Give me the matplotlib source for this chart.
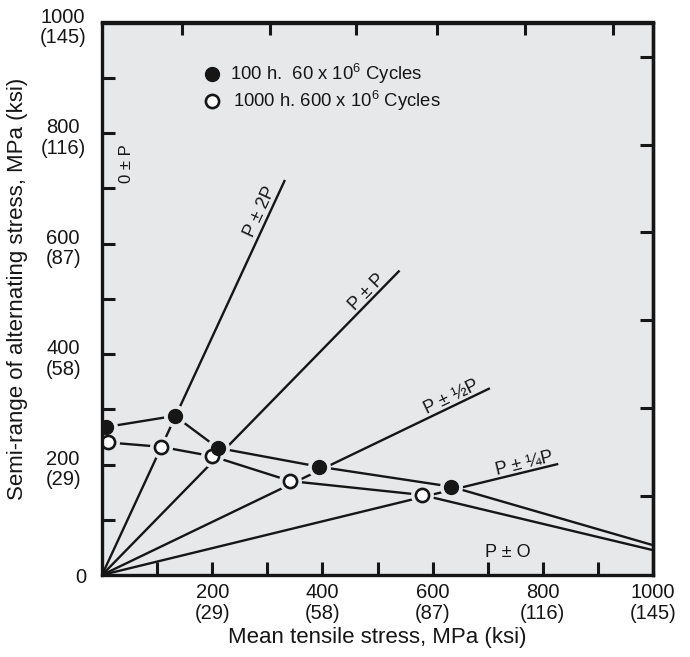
"""Creep-fatigue diagram: mean stress vs semi-range of alternating stress."""
import matplotlib
matplotlib.use("Agg")
import matplotlib.pyplot as plt  # noqa: E402
import numpy as np

plt.rcParams["font.family"] = ["Liberation Sans", "DejaVu Sans"]
plt.rcParams["mathtext.fontset"] = "custom"
plt.rcParams["mathtext.rm"] = "Liberation Sans"

# load-ratio rays drawn from the origin, end points in MPa
ray_names = ["P ± 2P", "P ± P", "P ± ½P", "P ± ¼P"]
ray_end_x = [332, 540, 704, 828]
ray_end_y = [715, 551, 338, 201]

# 100 h / 60 x 10^6 cycles (last point is where the curve leaves the frame)
short_x = [8, 132, 210, 394, 633, 1000]
short_y = [268, 288, 230, 196, 160, 54]
# 1000 h / 600 x 10^6 cycles
long_x = [10, 107, 200, 342, 580, 1000]
long_y = [240, 232, 215, 170, 145, 45]

mpa_ticks = [200, 400, 600, 800, 1000]
ksi_ticks = [29, 58, 87, 116, 145]
minor_ticks = list(range(100, 1000, 100))
top_ticks = [146, 305, 461, 608, 768, 927]
right_ticks = [143, 302, 461, 620, 779, 938]

# how far along each ray its name sits
label_t = [0.91, 0.91, 0.91, 0.93]

INK = "#161616"
FACE = "#e6e8ea"

fig = plt.figure(figsize=(6.9, 6.57), dpi=100)
ax = fig.add_axes([102 / 690, 1 - 575 / 657, 551 / 690, 552.5 / 657])
ax.set_facecolor(FACE)
ax.set_xlim(0, 1000)
ax.set_ylim(0, 1000)

for ex, ey in zip(ray_end_x, ray_end_y):
    ax.plot([0, ex], [0, ey], color=INK, lw=1.7, solid_capstyle="butt", zorder=2)
ax.plot(short_x, short_y, color=INK, lw=1.7, zorder=2)
ax.plot(long_x, long_y, color=INK, lw=1.7, zorder=2)

# background discs give the broken-line look around each marker
for xs, ys in ((long_x, long_y), (short_x, short_y)):
    ax.plot(xs[:-1], ys[:-1], "o", ms=16.5, color=FACE, mec="none", zorder=3)
ax.plot(long_x[:-1], long_y[:-1], "o", ms=9.5, mfc="white", mec=INK, mew=1.9, zorder=4)
ax.plot(short_x[:-1], short_y[:-1], "o", ms=10, color=INK, zorder=5)

# ray names sit just above their line, rotated with it
fig.canvas.draw()
for name, t, ex, ey in zip(ray_names, label_t, ray_end_x, ray_end_y):
    p0 = ax.transData.transform((0, 0))
    p1 = ax.transData.transform((ex, ey))
    ang = np.arctan2(p1[1] - p0[1], p1[0] - p0[0])
    off = 3.0 * np.array([-np.sin(ang), np.cos(ang)])
    ax.annotate(name, xy=(t * ex, t * ey), xytext=off, textcoords="offset points",
                rotation=np.degrees(ang), rotation_mode="anchor",
                ha="center", va="baseline", fontsize=13, color=INK)
ax.text(45, 745, "0 ± P", rotation=90, ha="center", va="center", fontsize=12, color=INK)
ax.text(737, 40, "P ± O", ha="center", va="center", fontsize=13, color=INK)

# legend drawn by hand, as in the original
ax.plot([0.199], [0.907], "o", ms=10, color=INK, transform=ax.transAxes)
ax.plot([0.200], [0.858], "o", ms=9.5, mfc="white", mec=INK, mew=1.9, transform=ax.transAxes)
ax.text(0.232, 0.907, r"100 h.  60 x 10$^\mathrm{6}$ Cycles", transform=ax.transAxes,
        va="center", fontsize=13.3, color=INK)
ax.text(0.238, 0.858, r"1000 h. 600 x 10$^\mathrm{6}$ Cycles", transform=ax.transAxes,
        va="center", fontsize=13.3, color=INK)

tick_kw = dict(direction="in", length=9.5, width=2.2, color=INK)
ax.set_xticks(minor_ticks, labels=[])
ax.set_yticks(minor_ticks, labels=[])
ax.tick_params(**tick_kw)
top = ax.secondary_xaxis("top")
top.set_xticks(top_ticks, labels=[])
top.tick_params(**tick_kw)
right = ax.secondary_yaxis("right")
right.set_yticks(right_ticks, labels=[])
right.tick_params(**tick_kw)
for a in (ax, top, right):
    for sp in a.spines.values():
        sp.set_linewidth(2.4)
        sp.set_color(INK)
        sp.set_zorder(6)

for v, k in zip(mpa_ticks, ksi_ticks):
    ax.annotate(f"{v}\n({k})", xy=(v, 0), xycoords=("data", "axes fraction"),
                xytext=(0, -6), textcoords="offset points", ha="center", va="top",
                multialignment="center", fontsize=14.5, linespacing=1.1, color=INK)
    ax.annotate(f"{v}\n({k})", xy=(0, v), xycoords=("axes fraction", "data"),
                xytext=(-28, -3.6), textcoords="offset points", ha="center", va="center",
                multialignment="center", fontsize=14.5, linespacing=1.1, color=INK)
ax.annotate("0", xy=(0, 0), xycoords="axes fraction", xytext=(-15, -2),
            textcoords="offset points", ha="center", va="center", fontsize=14.5, color=INK)

fig.text(377.5 / 690, 1 - 637 / 657, "Mean tensile stress, MPa (ksi)",
         ha="center", va="center", fontsize=16, color=INK)
fig.text(18 / 690, 1 - 289 / 657, "Semi-range of alternating stress, MPa (ksi)",
         rotation=90, ha="center", va="center", fontsize=16, color=INK)

fig.savefig("out.png", dpi=100)
plt.close(fig)
